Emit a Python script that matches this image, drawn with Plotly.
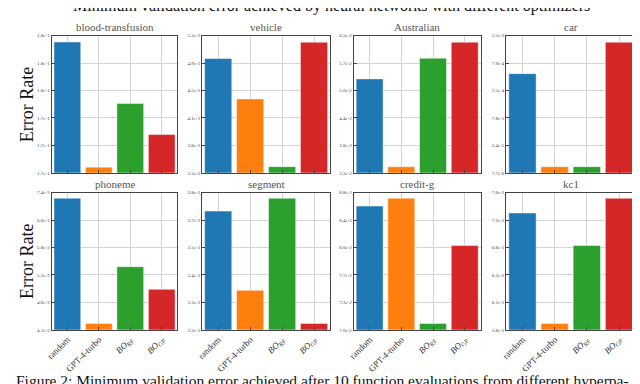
import math

import plotly.graph_objects as go
from plotly.subplots import make_subplots

SERIF = "Liberation Serif"

datasets = ["blood-transfusion", "vehicle", "Australian", "car",
            "phoneme", "segment", "credit-g", "kc1"]
methods = ["random", "GPT-4-turbo", "<i>BO</i><sub>RF</sub>", "<i>BO</i><sub>GP</sub>"]
colors = ["#1f77b4", "#ff7f0e", "#2ca02c", "#d62728"]

# minimum validation error per optimizer (random, GPT-4-turbo, BO_RF, BO_GP)
blood_transfusion = [1.819e-1, 1.705e-1, 1.762e-1, 1.734e-1]
vehicle = [4.946e-2, 4.377e-2, 3.566e-2, 5.196e-2]
australian = [5.27e-2, 3.44e-2, 5.824e-2, 6.296e-2]
car = [5.04e-4, 9.99e-6, 9.99e-6, 1.896e-3]
phoneme = [7.223e-2, 4.213e-2, 5.379e-2, 4.880e-2]
segment = [3.699e-2, 3.372e-2, 3.755e-2, 3.244e-2]
credit_g = [8.604e-2, 8.717e-2, 7.074e-2, 8.056e-2]
kc1 = [7.300e-2, 5.873e-2, 6.847e-2, 7.516e-2]
values = [blood_transfusion, vehicle, australian, car, phoneme, segment, credit_g, kc1]

# axis limits (log scale)
y_lims = [(1.70e-1, 1.825e-1), (3.5e-2, 5.3e-2), (3.34e-2, 6.5e-2), (7.7e-6, 2.5e-3),
          (4.1e-2, 7.4e-2), (3.22e-2, 3.78e-2), (7.0e-2, 8.8e-2), (5.8e-2, 7.6e-2)]

x_domains = [(38, 165), (190, 319), (343, 471), (497, 627)]
y_domains = [(26, 165), (185, 324)]
W, H = 640, 384


def sci(v):
    mant, exp = f"{v:.1e}".split("e")
    return f"{mant}e{int(exp)}"


fig = make_subplots(rows=2, cols=4)

for i, (name, vals) in enumerate(zip(datasets, values)):
    r, c = i // 4 + 1, i % 4 + 1
    fig.add_trace(go.Bar(x=methods, y=vals, marker_color=colors,
                         marker_line=dict(color="rgba(255,255,255,0.45)", width=1),
                         showlegend=False), row=r, col=c)
    lo, hi = y_lims[i]
    ticks = [lo * (hi / lo) ** (k / 5) for k in range(6)]
    x0, x1 = x_domains[c - 1]
    y0, y1 = y_domains[r - 1]
    fig.update_xaxes(domain=[x0 / W, x1 / W], showticklabels=(r == 2), tickangle=-45,
                     tickfont=dict(family=SERIF, size=9, color="#333"),
                     showgrid=True, gridcolor="#d4d4d4", gridwidth=1,
                     showline=True, mirror=True, linecolor="#444", linewidth=1,
                     ticks="inside", ticklen=3, tickcolor="#444", row=r, col=c)
    fig.update_yaxes(domain=[1 - y1 / H, 1 - y0 / H], type="log",
                     range=[math.log10(lo), math.log10(hi)],
                     tickvals=ticks, ticktext=[sci(t) for t in ticks],
                     tickfont=dict(family=SERIF, size=5, color="#444"),
                     showgrid=True, gridcolor="#d4d4d4", gridwidth=1,
                     showline=True, mirror=True, linecolor="#444", linewidth=1,
                     ticks="inside", ticklen=3, tickcolor="#444", row=r, col=c)
    fig.add_annotation(text=name, x=(x0 + x1) / 2 / W, y=1 - (y0 - 1) / H, xref="paper", yref="paper",
                       xanchor="center", yanchor="bottom", showarrow=False,
                       font=dict(family=SERIF, size=11, color="#555"))

for y0, y1 in y_domains:
    fig.add_annotation(text="Error Rate", x=13 / W, y=1 - (y0 + y1) / 2 / H, xref="paper", yref="paper",
                       textangle=-90, showarrow=False, xanchor="center", yanchor="middle",
                       font=dict(family=SERIF, size=18, color="#111"))

fig.add_annotation(text="Minimum validation error achieved by neural networks with different optimizers",
                   x=321 / W, y=1 + 4 / H, xref="paper", yref="paper", xanchor="center", yanchor="middle",
                   showarrow=False, font=dict(family=SERIF, size=16, color="#111"))
fig.add_annotation(text="Figure 2: Minimum validation error achieved after 10 function evaluations from different hyperpa-",
                   x=0 / W, y=1 - 375 / H, xref="paper", yref="paper", xanchor="left", yanchor="middle",
                   showarrow=False, font=dict(family=SERIF, size=15.5, color="#111"))

fig.update_layout(width=W, height=H, margin=dict(l=0, r=0, t=0, b=0),
                  paper_bgcolor="white", plot_bgcolor="white", bargap=0.15)
fig.write_html("out.html")
